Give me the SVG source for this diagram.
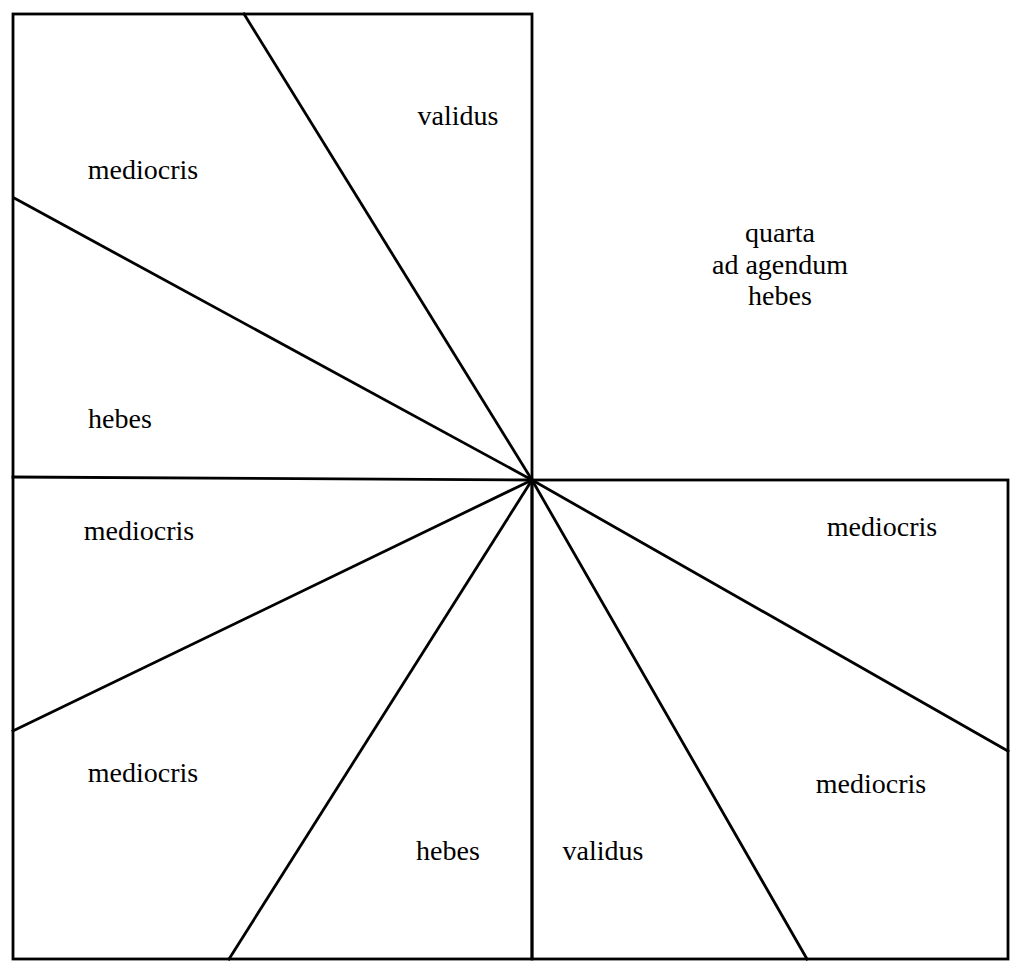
<svg xmlns="http://www.w3.org/2000/svg" width="1023" height="973" viewBox="0 0 1023 973">
<style>
.ln{stroke:#000;stroke-width:2.8;fill:none;stroke-linecap:square}
.t{font-family:"Liberation Serif","Times New Roman",serif;font-size:28px;fill:#000;text-anchor:middle}
</style>
<rect x="0" y="0" width="1023" height="973" fill="#fff"/>
<g id="frames">
<rect id="left-box" class="ln" x="13" y="14" width="519" height="945"/>
<rect id="right-box" class="ln" x="532" y="480" width="476" height="479"/>
</g>
<g id="connectors">
<line class="ln" x1="532" y1="480" x2="244" y2="14"/>
<line class="ln" x1="532" y1="480" x2="14" y2="198"/>
<line class="ln" x1="532" y1="480" x2="13" y2="477"/>
<line class="ln" x1="532" y1="480" x2="13" y2="731"/>
<line class="ln" x1="532" y1="480" x2="229" y2="959"/>
<line class="ln" x1="532" y1="480" x2="807" y2="959"/>
<line class="ln" x1="532" y1="480" x2="1008" y2="751"/>
</g>
<g id="n-validus-top"><text class="t" x="458" y="125">validus</text></g>
<g id="n-mediocris-1"><text class="t" x="143" y="179">mediocris</text></g>
<g id="n-quarta"><text class="t" x="780" y="242">quarta</text><text class="t" x="780" y="274">ad agendum</text><text class="t" x="780" y="305">hebes</text></g>
<g id="n-hebes-left"><text class="t" x="120" y="428">hebes</text></g>
<g id="n-mediocris-2"><text class="t" x="139" y="540">mediocris</text></g>
<g id="n-mediocris-3"><text class="t" x="882" y="536">mediocris</text></g>
<g id="n-mediocris-4"><text class="t" x="143" y="782">mediocris</text></g>
<g id="n-mediocris-5"><text class="t" x="871" y="793">mediocris</text></g>
<g id="n-hebes-bottom"><text class="t" x="448" y="860">hebes</text></g>
<g id="n-validus-bottom"><text class="t" x="603" y="860">validus</text></g>
</svg>
